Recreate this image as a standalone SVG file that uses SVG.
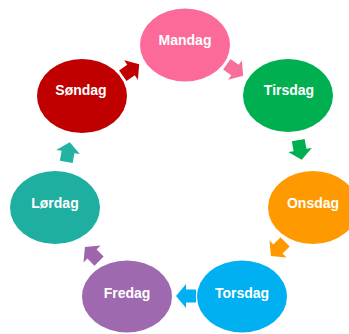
<svg xmlns="http://www.w3.org/2000/svg" width="349" height="334" viewBox="0 0 349 334">
<defs>
<style>
text{font-family:"Liberation Sans",Arial,sans-serif;font-weight:bold;font-size:14px;fill:#fff;text-anchor:middle}
</style>
<path id="arr" d="M-10,-6.5 L0,-6.5 L0,-12 L10,0 L0,12 L0,6.5 L-10,6.5 Z"/>
</defs>
<rect width="349" height="334" fill="#fff"/>
<g id="connectors">
<use href="#arr" fill="#C00000" transform="translate(131,70) rotate(-35)"/>
<use href="#arr" fill="#F7709B" transform="translate(235,70) rotate(35)"/>
<use href="#arr" fill="#00B050" transform="translate(300,150) rotate(80)"/>
<use href="#arr" fill="#FF9900" transform="translate(278,249) rotate(135)"/>
<use href="#arr" fill="#00B0F0" transform="translate(186,296) rotate(180)"/>
<use href="#arr" fill="#9E64AC" transform="translate(92,254) rotate(-135)"/>
<use href="#arr" fill="#24B2A4" transform="translate(68,152) rotate(-80)"/>
</g>
<g id="mandag"><ellipse cx="185" cy="45" rx="45" ry="36.5" fill="#FB6A98"/><text x="185" y="45">Mandag</text></g>
<g id="tirsdag"><ellipse cx="288" cy="95.5" rx="45" ry="36.5" fill="#00B050"/><text x="289" y="95">Tirsdag</text></g>
<g id="onsdag"><ellipse cx="313" cy="207.5" rx="45" ry="36.5" fill="#FF9900"/><text x="313" y="208">Onsdag</text></g>
<g id="torsdag"><ellipse cx="242" cy="296.5" rx="45" ry="36" fill="#00B0F0"/><text x="242" y="298">Torsdag</text></g>
<g id="fredag"><ellipse cx="127" cy="296.5" rx="45" ry="36" fill="#9E69AF"/><text x="127" y="298">Fredag</text></g>
<g id="lordag"><ellipse cx="55" cy="207.5" rx="45" ry="36.5" fill="#1FAFA0"/><text x="55" y="208">Lørdag</text></g>
<g id="sondag"><ellipse cx="82" cy="96" rx="45" ry="37" fill="#C00000"/><text x="81" y="95">Søndag</text></g>
</svg>
